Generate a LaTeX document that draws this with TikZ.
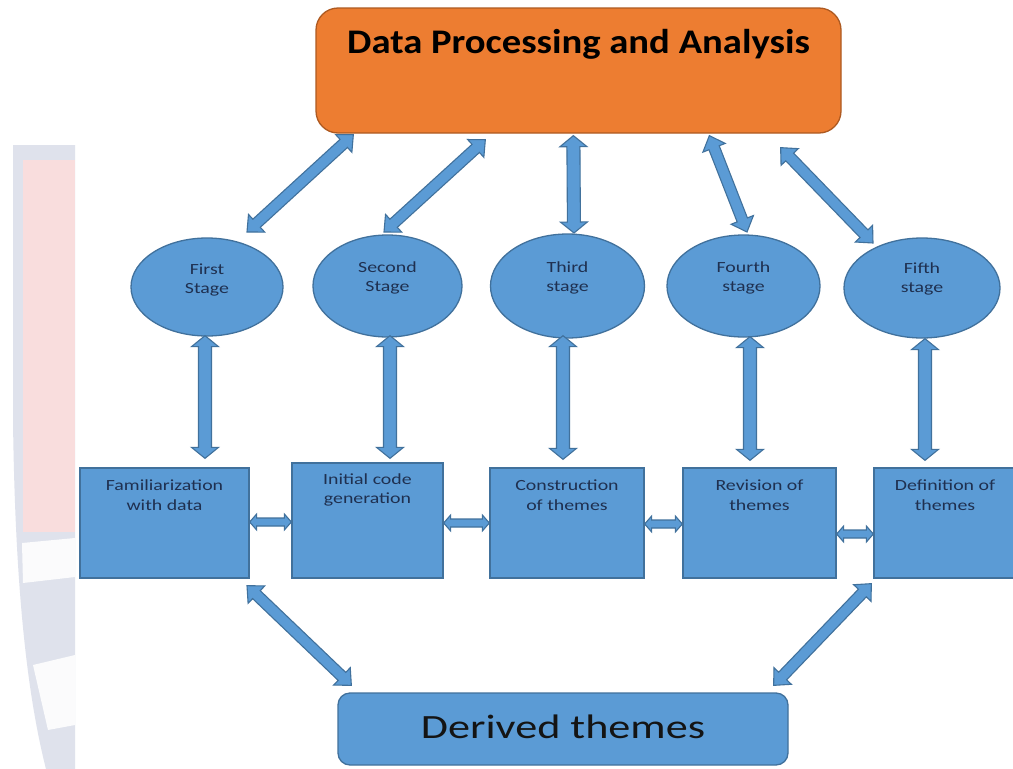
\documentclass[tikz,border=0pt]{standalone}
\usepackage{fontspec}
\setmainfont{Carlito}
\newfontfamily\titlefont[FakeStretch=1.12]{Carlito}
\newfontfamily\lblfont[FakeStretch=1.28]{Carlito}
\newfontfamily\derfont[FakeStretch=1.3]{Carlito}
\usetikzlibrary{calc,shapes.geometric}
\definecolor{pblue}{HTML}{5B9BD5}
\definecolor{pblueline}{HTML}{41719C}
\definecolor{porange}{HTML}{ED7D31}
\definecolor{porangeline}{HTML}{AE5A21}
\definecolor{navytext}{HTML}{1F3050}
\definecolor{wmgray}{HTML}{DFE2EC}
\definecolor{wmpink}{HTML}{F9DDDD}
\definecolor{wmwhite}{HTML}{FBFBFC}
\tikzset{
  stagebox/.style={rectangle, fill=pblue, draw=pblueline, line width=1.3pt, inner sep=0pt},
  stageell/.style={ellipse, fill=pblue, draw=pblueline, line width=1.3pt, inner sep=0pt},
  lbl/.style={font=\lblfont\fontsize{15.5}{19.5}\selectfont, text=navytext, align=center, inner sep=0pt},
  blockarrow/.style={fill=pblue, draw=pblueline, line width=1.1pt, line join=miter},
}
% block double arrow: from, to, shaft half width, head half width, head length
\newcommand\barrow[5]{%
  \path (#1) coordinate (ba-a) (#2) coordinate (ba-b);
  \path ($(ba-a)!#5!(ba-b)$) coordinate (ba-h0) ($(ba-b)!#5!(ba-a)$) coordinate (ba-h1);
  \filldraw[blockarrow] (ba-a) -- ($(ba-h0)!#4!90:(ba-b)$) -- ($(ba-h0)!#3!90:(ba-b)$)
    -- ($(ba-h1)!#3!-90:(ba-a)$) -- ($(ba-h1)!#4!-90:(ba-a)$) -- (ba-b)
    -- ($(ba-h1)!#4!90:(ba-a)$) -- ($(ba-h1)!#3!90:(ba-a)$)
    -- ($(ba-h0)!#3!-90:(ba-b)$) -- ($(ba-h0)!#4!-90:(ba-b)$) -- cycle;}
\newcommand\bigarrow[2]{\barrow{#1}{#2}{6.5pt}{13.5pt}{11pt}}
\newcommand\diagarrow[2]{\barrow{#1}{#2}{5.5pt}{12pt}{13pt}}
\newcommand\smallarrow[2]{\barrow{#1}{#2}{4pt}{8pt}{7pt}}

\begin{document}
\begin{tikzpicture}[x=1pt,y=-1pt]
\useasboundingbox (0,0) rectangle (1013,769);
\fill[white] (0,0) rectangle (1013,769);
% faint watermark on the left
\fill[wmgray] (13,145) -- (75,145) -- (75,769) -- (46,769) .. controls (26,690) and (15,580) .. (13,420) -- cycle;
\fill[wmpink] (23,160) rectangle (75,532);
\fill[wmwhite] (22,543) -- (75,538) -- (75,577) -- (23,583) -- cycle;
\fill[wmwhite] (33,665) -- (75,655) -- (75,725) -- (48,730) -- cycle;

% top box
\node[rectangle, rounded corners=22pt, fill=porange, draw=porangeline, line width=1.3pt,
      minimum width=525pt, minimum height=125pt] (top) at (578.5,70.5) {};
\node[font=\titlefont\bfseries\fontsize{34.5}{40}\selectfont, inner sep=0pt] (title) at (578.5,44) {Data Processing and Analysis};

% stage ellipses
\node[stageell, minimum width=152pt, minimum height=98pt] (e1) at (207,287) {};
\node[stageell, minimum width=149pt, minimum height=102pt] (e2) at (387.5,286) {};
\node[stageell, minimum width=154pt, minimum height=104pt] (e3) at (567.5,286) {};
\node[stageell, minimum width=153pt, minimum height=102pt] (e4) at (743.5,286) {};
\node[stageell, minimum width=156pt, minimum height=100pt] (e5) at (922,288) {};
\node[lbl] (t1) at ($(e1.center)+(0,-7)$) {First\\Stage};
\node[lbl] (t2) at ($(e2.center)+(0,-8)$) {Second\\Stage};
\node[lbl] (t3) at ($(e3.center)+(0,-8)$) {Third\\stage};
\node[lbl] (t4) at ($(e4.center)+(0,-8)$) {Fourth\\stage};
\node[lbl] (t5) at ($(e5.center)+(0,-9)$) {Fifth\\stage};

% process boxes
\node[stagebox, minimum width=169pt, minimum height=110pt] (b1) at (164.5,523) {};
\node[stagebox, minimum width=151pt, minimum height=115pt] (b2) at (367.5,520.5) {};
\node[stagebox, minimum width=154pt, minimum height=110pt] (b3) at (567,523) {};
\node[stagebox, minimum width=153pt, minimum height=110pt] (b4) at (759.5,523) {};
\node[stagebox, minimum width=142pt, minimum height=110pt] (b5) at (945,523) {};
\node[lbl] (l1) at ($(b1.north)+(0,28)$) {Familiarization\\with data};
\node[lbl] (l2) at ($(b2.north)+(0,27.5)$) {Initial code\\generation};
\node[lbl] (l3) at ($(b3.north)+(0,28)$) {Construction\\of themes};
\node[lbl] (l4) at ($(b4.north)+(0,28)$) {Revision of\\themes};
\node[lbl] (l5) at ($(b5.north)+(0,28)$) {Definition of\\themes};

% derived themes
\node[rectangle, rounded corners=12pt, fill=pblue, draw=pblueline, line width=1.3pt,
      minimum width=450pt, minimum height=72pt] (der) at (563,729) {};
\node[font=\derfont\fontsize{34}{40}\selectfont, text=black!92, inner sep=0pt] (dt) at (563,727) {Derived themes};

% arrows ellipse <-> top box
\diagarrow{$(e1.center)+(40,-55)$}{$(top.south west)+(38,1)$}
\diagarrow{$(e2.center)+(-3.5,-54)$}{$(top.south west)+(170,6)$}
\bigarrow{$(e3.center)+(6.5,-53)$}{$(top.south west)+(258,2)$}
\diagarrow{$(e4.center)+(3.5,-54)$}{$(top.south west)+(394,2)$}
\diagarrow{$(e5.center)+(-49,-45)$}{$(top.south east)+(-61,14)$}

% arrows ellipse <-> box
\bigarrow{$(e1.south)+(-2,-1)$}{$(b1.north)+(40.5,-9)$}
\bigarrow{$(e2.south)+(2.5,-2)$}{$(b2.north)+(22.5,-4)$}
\bigarrow{$(e3.south)+(-4.5,-3)$}{$(b3.north)+(-4,-8)$}
\bigarrow{$(e4.south)+(6.5,-1)$}{$(b4.north)+(-9.5,-7)$}
\bigarrow{$(e5.south)+(3,0)$}{$(b5.north)+(-20,-7)$}

% arrows box <-> box
\smallarrow{$(b1.east)+(0,-1)$}{$(b2.west)+(0,1.5)$}
\smallarrow{$(b2.east)+(0,2.5)$}{$(b3.west)$}
\smallarrow{$(b3.east)+(0,1)$}{$(b4.west)+(0,1)$}
\smallarrow{$(b4.east)+(0,11)$}{$(b5.west)+(0,11)$}

% arrows box <-> derived themes
\diagarrow{$(b1.south)+(82.5,7)$}{$(der.north west)+(14,-7)$}
\diagarrow{$(b5.south west)+(-2,5)$}{$(der.north east)+(-15,-7)$}
\end{tikzpicture}
\end{document}
